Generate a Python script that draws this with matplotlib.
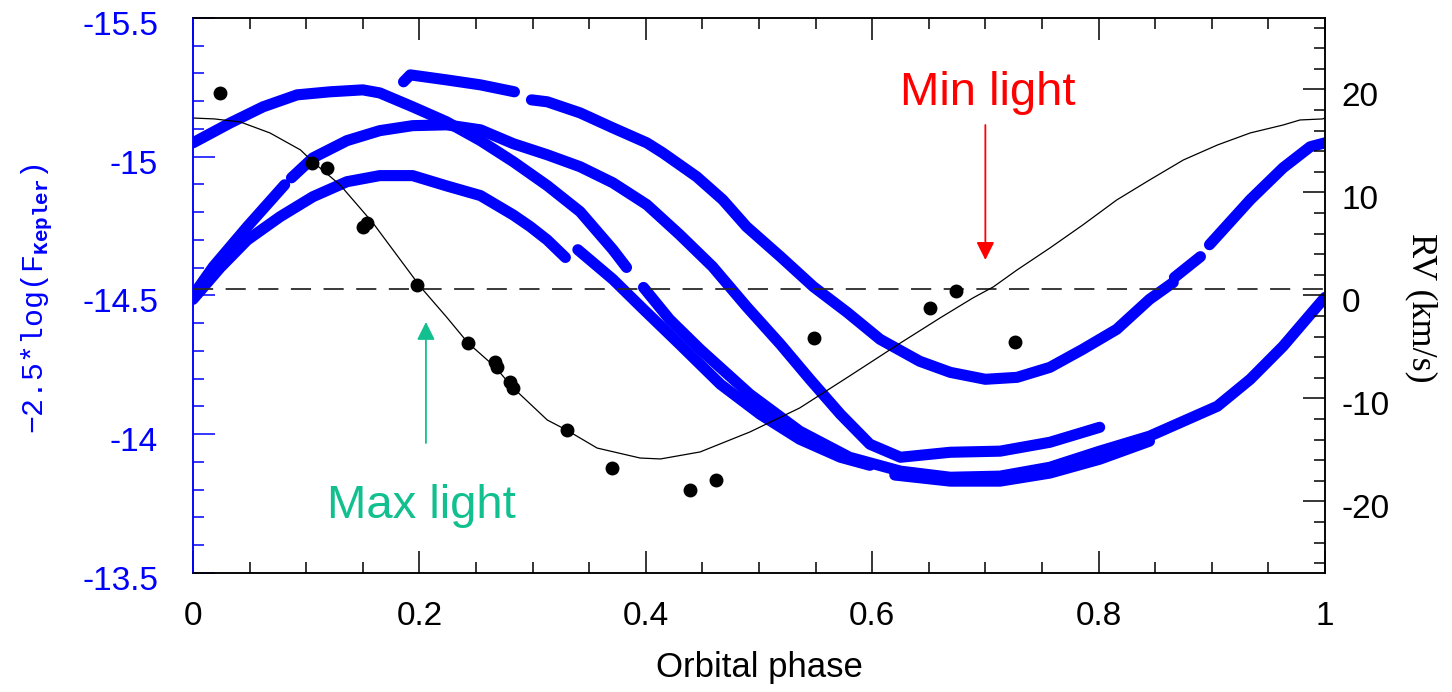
import matplotlib.pyplot as plt
from matplotlib.ticker import MultipleLocator
from matplotlib.transforms import ScaledTranslation

plt.rcParams['font.family'] = ['Liberation Sans', 'DejaVu Sans']
plt.rcParams['axes.unicode_minus'] = False
plt.rcParams['lines.scale_dashes'] = False
plt.rcParams['mathtext.fontset'] = 'custom'
plt.rcParams['mathtext.rm'] = 'Liberation Mono'
plt.rcParams['mathtext.bf'] = 'Liberation Mono:bold'

# Kepler light curve folded on the orbital phase, one list per unbroken piece
top_ph = [0.186, 0.192, 0.224, 0.254, 0.284]
top_mag = [-15.270, -15.295, -15.277, -15.259, -15.234]

d_ph = [0.299, 0.313, 0.342, 0.371, 0.401, 0.415, 0.445, 0.468, 0.489, 0.519, 0.548,
        0.578, 0.607, 0.642, 0.669, 0.700, 0.728, 0.757, 0.786, 0.816, 0.845, 0.866]
d_mag = [-15.205, -15.198, -15.158, -15.104, -15.050, -15.014, -14.928, -14.845, -14.748,
         -14.640, -14.532, -14.439, -14.342, -14.263, -14.223, -14.198, -14.205, -14.241,
         -14.306, -14.378, -14.486, -14.547]
d2_ph = [0.867, 0.890]
d2_mag = [-14.565, -14.640]
d3_ph = [0.898, 0.934, 0.963, 0.987, 1.0]
d3_mag = [-14.683, -14.845, -14.960, -15.036, -15.050]

a_ph = [0.0, 0.033, 0.062, 0.092, 0.121, 0.150, 0.165, 0.194, 0.224, 0.254, 0.283,
        0.313, 0.342, 0.371, 0.383]
a_mag = [-15.050, -15.122, -15.180, -15.223, -15.234, -15.241, -15.230, -15.180, -15.126,
         -15.058, -14.982, -14.896, -14.802, -14.665, -14.601]
a2_ph = [0.398, 0.421, 0.448, 0.492, 0.536, 0.580, 0.625, 0.669, 0.713, 0.757, 0.801,
         0.845, 0.905, 0.934, 0.963, 0.993, 1.0]
a2_mag = [-14.529, -14.414, -14.306, -14.144, -14.011, -13.917, -13.867, -13.845, -13.849,
          -13.881, -13.939, -13.993, -14.101, -14.198, -14.317, -14.460, -14.493]

b1_ph = [0.0, 0.018, 0.048, 0.081]
b1_mag = [-14.500, -14.604, -14.748, -14.899]
b2_ph = [0.087, 0.106, 0.136, 0.165, 0.194, 0.224, 0.254, 0.283, 0.313, 0.342, 0.371,
         0.401, 0.430, 0.459, 0.489, 0.519, 0.545, 0.572, 0.598, 0.625, 0.669, 0.713,
         0.757, 0.801]
b2_mag = [-14.924, -14.996, -15.058, -15.094, -15.112, -15.115, -15.097, -15.047, -15.007,
          -14.964, -14.906, -14.827, -14.719, -14.604, -14.460, -14.324, -14.198, -14.072,
          -13.964, -13.917, -13.935, -13.939, -13.971, -14.025]

c_ph = [0.0, 0.024, 0.048, 0.077, 0.106, 0.136, 0.165, 0.194, 0.224, 0.254, 0.283,
        0.298, 0.313, 0.329]
c_mag = [-14.486, -14.60, -14.70, -14.784, -14.856, -14.91, -14.932, -14.932, -14.895,
         -14.86, -14.79, -14.748, -14.70, -14.637]
c2_ph = [0.340, 0.371, 0.398, 0.430, 0.466, 0.501, 0.536, 0.572, 0.598]
c2_mag = [-14.665, -14.558, -14.450, -14.324, -14.180, -14.072, -13.982, -13.917, -13.888]

low_ph = [0.620, 0.669, 0.713, 0.757, 0.801, 0.845]
low_mag = [-13.853, -13.831, -13.831, -13.860, -13.910, -13.975]

pieces = [(top_ph, top_mag), (d_ph, d_mag), (d2_ph, d2_mag), (d3_ph, d3_mag),
          (a_ph, a_mag), (a2_ph, a2_mag), (b1_ph, b1_mag), (b2_ph, b2_mag),
          (c_ph, c_mag), (c2_ph, c2_mag), (low_ph, low_mag)]

# radial velocities and orbit fit
rv_ph = [0.024, 0.105, 0.118, 0.150, 0.154, 0.198, 0.243, 0.267, 0.269, 0.280, 0.283,
         0.330, 0.370, 0.439, 0.462, 0.549, 0.651, 0.674, 0.726]
rv_val = [19.65, 12.86, 12.38, 6.65, 7.04, 1.02, -4.61, -6.46, -6.94, -8.40, -8.98,
          -13.06, -16.75, -18.88, -17.91, -4.13, -1.21, 0.44, -4.51]

fit_ph = [0.000, 0.019, 0.042, 0.068, 0.095, 0.106, 0.130, 0.159, 0.201, 0.224, 0.243,
          0.267, 0.282, 0.313, 0.330, 0.357, 0.395, 0.413, 0.448, 0.492, 0.536, 0.580,
          0.625, 0.660, 0.689, 0.707, 0.728, 0.757, 0.786, 0.816, 0.845, 0.875, 0.905,
          0.934, 0.963, 0.978, 0.998, 1.0]
fit_rv = [17.23, 17.14, 16.84, 15.78, 14.13, 12.96, 10.73, 7.04, 0.83, -2.09, -4.61,
          -6.94, -8.88, -12.09, -13.06, -14.81, -15.78, -15.87, -15.19, -13.25, -10.92,
          -7.82, -4.61, -2.18, -0.24, 0.83, 2.48, 4.61, 6.84, 9.27, 11.21, 13.16, 14.61,
          15.78, 16.55, 17.04, 17.14, 17.23]
gamma = 0.63

x_ticks = [0, 0.2, 0.4, 0.6, 0.8, 1.0]
x_labels = ['0', '0.2', '0.4', '0.6', '0.8', '1']
mag_ticks = [-15.5, -15, -14.5, -14, -13.5]
mag_labels = ['-15.5', '-15', '-14.5', '-14', '-13.5']
rv_ticks = [-20, -10, 0, 10, 20]
rv_labels = ['-20', '-10', '0', '10', '20']

blue = '#0000ff'
teal = '#12c08f'

fig = plt.figure(figsize=(14.52, 6.92), dpi=100)
ax = fig.add_axes([0.1329, 0.172, 0.7796, 0.802])
ax2 = ax.twinx()

for ph, mag in pieces:
    ax.plot(ph, mag, color=blue, lw=8, solid_capstyle='round', solid_joinstyle='round')

ax.set_xlim(0, 1)
ax.set_ylim(-13.5, -15.5)
ax2.set_ylim(-26.94, 26.94)

ax2.axhline(gamma, color='#2a2a2a', lw=1.3, dashes=(14.5, 9))
ax2.plot(fit_ph, fit_rv, color='black', lw=0.9)
ax2.plot(rv_ph, rv_val, 'o', color='black', ms=9)

# annotations
ax2.annotate('', xy=(0.700, 3.45), xytext=(0.700, 16.55),
             arrowprops=dict(arrowstyle='-|>', color='red', lw=1.3,
                             shrinkA=0, shrinkB=0, mutation_scale=27))
ax2.text(0.6246, 18.5, 'Min light', color='red', fontsize=34, ha='left', va='baseline')
ax2.annotate('', xy=(0.2058, -2.57), xytext=(0.2058, -14.32),
             arrowprops=dict(arrowstyle='-|>', color=teal, lw=1.3,
                             shrinkA=0, shrinkB=0, mutation_scale=27))
ax2.text(0.1184, -21.6, 'Max light', color=teal, fontsize=34, ha='left', va='baseline')

# ticks
ax.set_xticks(x_ticks, x_labels)
ax.xaxis.set_minor_locator(MultipleLocator(0.05))
ax.set_yticks(mag_ticks, mag_labels)
ax.yaxis.set_minor_locator(MultipleLocator(0.1))
ax2.set_yticks(rv_ticks, rv_labels)
ax2.yaxis.set_minor_locator(MultipleLocator(2))

ax.tick_params(axis='x', which='both', direction='in', top=True, bottom=True,
               labelsize=24, pad=20, width=1.1, color='black')
ax.tick_params(axis='x', which='major', length=16)
ax.tick_params(axis='x', which='minor', length=8)
ax.tick_params(axis='y', which='both', direction='in', left=True, right=False,
               colors=blue, labelsize=24, pad=25, width=1.1)
ax.tick_params(axis='y', which='major', length=16)
ax.tick_params(axis='y', which='minor', length=8)
ax2.tick_params(axis='y', which='both', direction='in', labelsize=24, pad=12, width=1.1)
ax2.tick_params(axis='y', which='major', length=16)
ax2.tick_params(axis='y', which='minor', length=8)

shift = ScaledTranslation(0, -0.05, fig.dpi_scale_trans)
for lab in ax.get_yticklabels() + ax2.get_yticklabels():
    lab.set_transform(lab.get_transform() + shift)

for a in (ax, ax2):
    for s in a.spines.values():
        s.set_linewidth(1.1)
ax.spines['left'].set_color(blue)
ax2.spines['left'].set_color(blue)

ax.set_xlabel('Orbital phase', fontsize=25, labelpad=14)
ax.set_ylabel('\u22122.5*log(F$_{\\mathbf{Kepler}}$)', color=blue, fontsize=21.5,
              family='Liberation Mono')
ax.yaxis.set_label_coords(-0.1226, 0.494)
ax2.set_ylabel('RV (km/s)', rotation=270, fontsize=26, family='Liberation Serif')
ax2.yaxis.label.set_va('bottom')
ax2.yaxis.set_label_coords(1.0707, 0.477)

fig.savefig('out.png', dpi=100)
